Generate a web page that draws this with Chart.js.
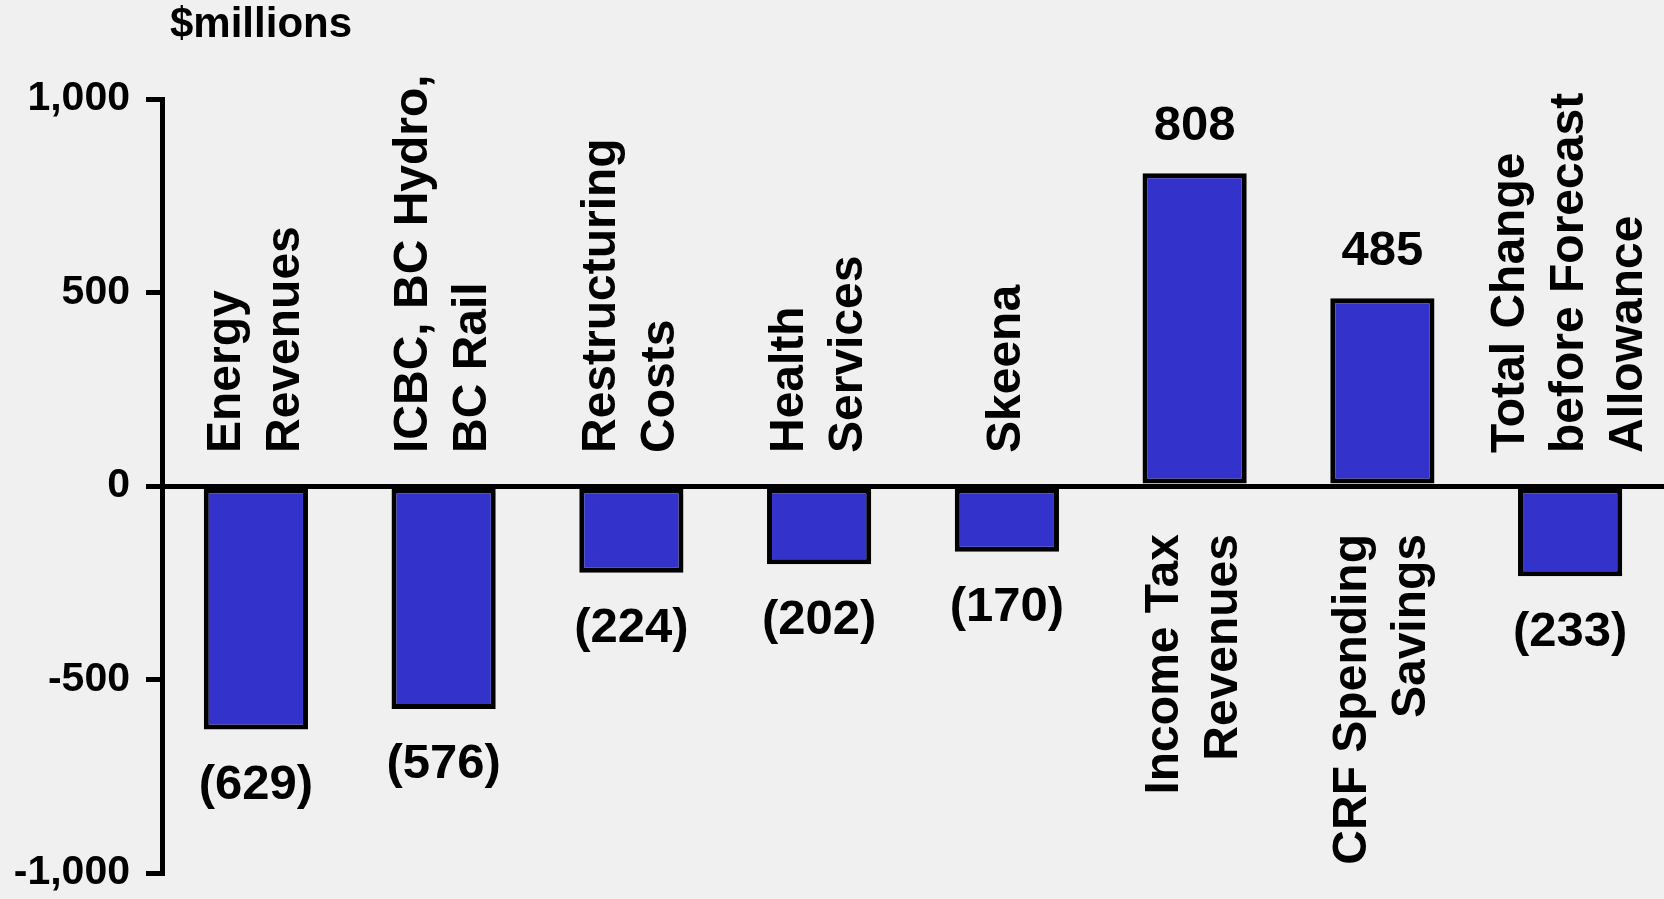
<!DOCTYPE html>
<html>
<head>
<meta charset="utf-8">
<script src="https://cdn.jsdelivr.net/npm/chart.js@4.4.1/dist/chart.umd.min.js"></script>
<style>
  html, body { margin: 0; padding: 0; background: #f0f0f0; }
  #wrap { width: 1664px; height: 899px; position: relative; }
</style>
</head>
<body>
<div id="wrap"><canvas id="grafico"></canvas></div>
<script>
// Datos del grafico
const categorias = [
  ["Energy", "Revenues"],
  ["ICBC, BC Hydro,", "BC Rail"],
  ["Restructuring", "Costs"],
  ["Health", "Services"],
  ["Skeena"],
  ["Income Tax", "Revenues"],
  ["CRF Spending", "Savings"],
  ["Total Change", "before Forecast", "Allowance"]
];
const cambios = [-629, -576, -224, -202, -170, 808, 485, -233];
const ticksY = [-1000, -500, 0, 500, 1000];
const unidad = "$millions";

const fuente = '"Liberation Sans", Arial, sans-serif';

// Formato de etiquetas: negativos entre parentesis
const formatoValor = v => v < 0 ? `(${Math.abs(v)})` : `${v}`;

// Plugin para etiquetas de categoria y valores
const etiquetasPlugin = {
  id: "etiquetas",
  beforeDraw(chart) {
    const ctx = chart.ctx;
    ctx.save();
    ctx.fillStyle = "#f0f0f0";
    ctx.fillRect(0, 0, chart.width, chart.height);
    ctx.restore();
  },
  afterDraw(chart) {
    const ctx = chart.ctx;
    const x = chart.scales.x;
    const y = chart.scales.y;
    const cero = y.getPixelForValue(0);
    ctx.save();
    ctx.fillStyle = "#000";

    // Unidad arriba a la izquierda
    ctx.font = `bold 42px ${fuente}`;
    ctx.textAlign = "left";
    ctx.textBaseline = "middle";
    ctx.fillText(unidad, 170, 25);

    cambios.forEach((valor, i) => {
      const cx = x.getPixelForValue(i);
      const fin = y.getPixelForValue(valor);

      // Valor
      ctx.font = `bold 49px ${fuente}`;
      ctx.textAlign = "center";
      ctx.textBaseline = "middle";
      const vy = valor < 0 ? fin + 56 : fin - 47;
      ctx.fillText(formatoValor(valor), cx, vy);

      // Categoria en vertical
      const lineas = categorias[i];
      const alto = 59;
      ctx.save();
      if (valor < 0) {
        ctx.translate(cx, cero - 33);
        ctx.rotate(-Math.PI / 2);
        ctx.textAlign = "left";
      } else {
        ctx.translate(cx, cero + 48);
        ctx.rotate(-Math.PI / 2);
        ctx.textAlign = "right";
      }
      ctx.font = `bold 48px ${fuente}`;
      ctx.textBaseline = "middle";
      lineas.forEach((linea, j) => {
        const off = (j - (lineas.length - 1) / 2) * alto;
        ctx.fillText(linea, 0, off);
      });
      ctx.restore();
    });
    ctx.restore();
  }
};

new Chart(document.getElementById("grafico"), {
  type: "bar",
  data: {
    labels: categorias.map(c => c.join(" ")),
    datasets: [{
      data: cambios,
      backgroundColor: "#3333cc",
      borderColor: "#000",
      borderWidth: 5,
      borderSkipped: false,
      categoryPercentage: 1,
      barPercentage: 0.555
    }]
  },
  options: {
    responsive: true,
    maintainAspectRatio: false,
    animation: false,
    devicePixelRatio: 1,
    layout: { padding: { top: 99, bottom: 26, left: 0, right: 0 } },
    plugins: {
      legend: { display: false },
      tooltip: { enabled: false }
    },
    scales: {
      x: { display: false },
      y: {
        min: -1000,
        max: 1000,
        afterBuildTicks: scale => { scale.ticks = ticksY.map(v => ({ value: v })); },
        afterFit: scale => {
          scale.width = 162;
          scale.paddingTop = 0;
          scale.paddingBottom = 0;
        },
        border: { display: true, color: "#000", width: 5 },
        grid: {
          drawOnChartArea: true,
          drawTicks: true,
          tickLength: 16,
          tickWidth: 5,
          tickColor: "#000",
          lineWidth: 5,
          color: c => (c.tick && c.tick.value === 0) ? "#000" : "rgba(0,0,0,0)"
        },
        ticks: {
          color: "#000",
          padding: 16,
          font: { family: fuente, size: 41, weight: "bold" },
          callback: v => Number(v).toLocaleString("en-US")
        }
      }
    }
  },
  plugins: [etiquetasPlugin]
});
</script>
</body>
</html>
